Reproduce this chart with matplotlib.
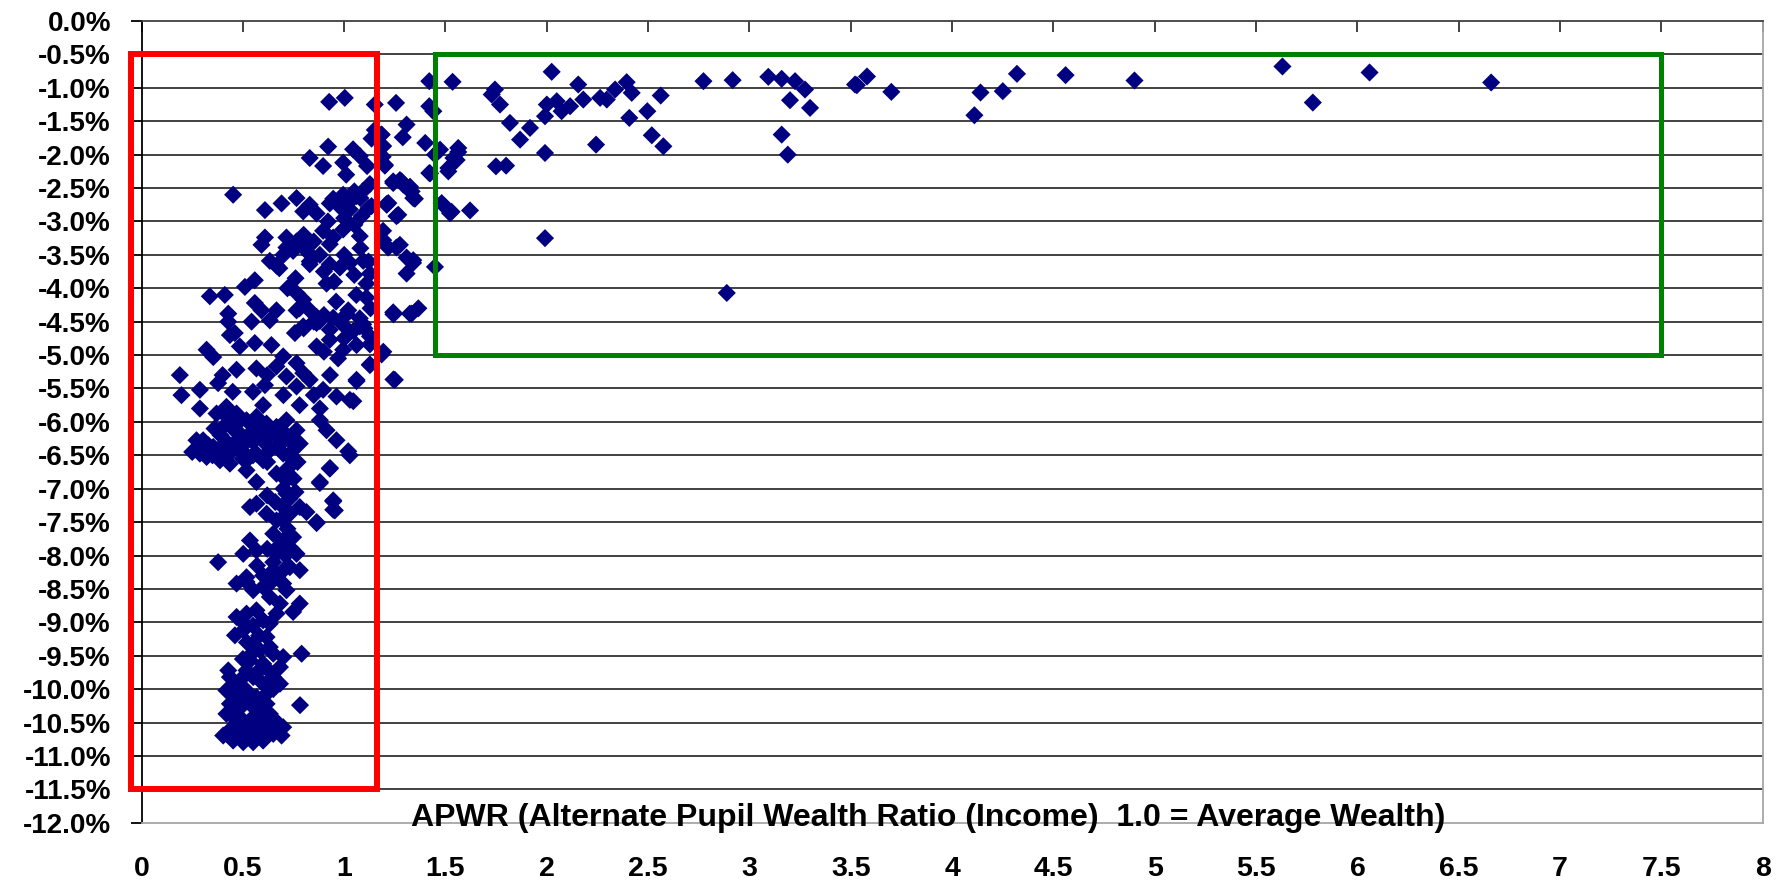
import matplotlib
matplotlib.use('Agg')
import matplotlib.pyplot as plt
from matplotlib.patches import Rectangle

# ---------------- data (APWR, % change) ----------------
# sparse districts, APWR > ~1.16
high_pts = [
    (3.53, -0.96), (3.58, -0.83), (3.70, -1.06), (4.11, -1.41), (4.14, -1.07), (4.25, -1.05),
    (4.32, -0.79), (4.56, -0.81), (4.90, -0.89), (5.63, -0.68), (5.78, -1.22), (6.06, -0.77),
    (6.66, -0.92),
    (1.256, -1.225), (1.308, -1.55), (1.289, -1.74), (1.185, -1.70), (1.40, -1.825), (1.19, -1.875),
    (1.201, -2.165), (1.242, -2.425), (1.292, -2.45), (1.333, -2.55), (1.341, -2.65), (1.218, -2.725),
    (1.267, -2.9), (1.42, -0.9), (1.42, -1.275), (1.44, -1.35), (1.42, -2.275),
    (1.535, -0.91), (1.473, -1.925), (1.563, -1.9), (1.539, -2.05), (1.514, -2.25), (1.481, -2.725),
    (1.522, -2.875), (1.621, -2.835), (1.744, -1.025), (1.728, -1.1), (1.769, -1.25), (1.818, -1.525),
    (1.868, -1.775), (1.917, -1.6), (1.749, -2.175), (1.799, -2.165), (2.024, -0.76), (1.991, -1.975),
    (2.0, -1.25), (1.991, -1.425), (2.049, -1.2), (2.073, -1.35), (2.115, -1.275), (2.155, -0.95),
    (2.18, -1.175), (2.263, -1.15), (2.296, -1.175), (2.337, -1.025), (2.394, -0.915), (2.419, -1.075),
    (2.407, -1.45), (2.496, -1.35), (2.562, -1.115), (2.243, -1.85), (2.518, -1.71), (2.575, -1.875),
    (2.773, -0.9), (2.917, -0.885), (3.093, -0.835), (3.159, -0.865), (3.225, -0.9), (3.274, -1.025),
    (3.299, -1.3), (3.200, -1.185), (3.159, -1.7), (3.189, -2.0), (3.521, -0.95), (1.991, -3.25),
    (2.888, -4.07), (1.448, -3.68), (1.498, -2.78), (1.53, -2.855),
    (1.242, -2.40), (1.275, -2.38), (1.325, -2.48), (1.21, -2.75), (1.193, -3.28), (1.275, -3.35),
    (1.341, -3.58), (1.308, -3.78), (1.242, -4.36), (1.333, -4.38), (1.366, -4.30), (1.193, -4.95),
    (1.424, -2.28), (1.448, -2.0), (1.514, -2.2), (1.555, -2.08), (1.563, -1.96), (1.243, -4.39),
    (1.243, -5.365), (1.185, -4.99), (1.25, -5.37),
    (1.184, -1.70), (1.192, -1.87), (1.20, -2.15), (1.283, -2.40), (1.324, -2.54), (1.349, -2.66),
    (1.209, -2.74), (1.258, -2.92), (1.192, -3.14), (1.217, -3.39), (1.258, -3.39), (1.308, -3.54),
    (1.34, -3.62), (1.324, -4.38), (1.19, -2.03),
]

# dense districts, APWR < ~1.16 (upper part of the cloud)
low_upper_pts = [
    (0.926, -1.21), (1.003, -1.15), (1.151, -1.25), (1.151, -1.63), (1.135, -1.76), (0.921, -1.88),
    (0.83, -2.05), (0.896, -2.17), (1.044, -1.92), (1.077, -2.02), (0.995, -2.12), (1.01, -2.3),
    (1.113, -2.17), (0.452, -2.6), (0.609, -2.83), (0.691, -2.73), (0.765, -2.65), (0.83, -2.75),
    (0.798, -2.85), (0.864, -2.88), (0.946, -2.66), (0.995, -2.60), (1.028, -2.70), (1.061, -2.62),
    (1.094, -2.54), (0.979, -2.78), (1.028, -2.82), (0.929, -2.73), (1.086, -2.92), (1.135, -2.77),
    (1.127, -2.44), (0.609, -3.24), (0.592, -3.35), (0.715, -3.24), (0.765, -3.30), (0.798, -3.39),
    (0.83, -3.49), (0.715, -3.39), (0.748, -3.44), (0.83, -3.64), (0.896, -3.14), (0.946, -3.24),
    (0.995, -3.12), (0.929, -3.34), (1.077, -3.22), (0.633, -3.59), (0.666, -3.66), (0.929, -3.64),
    (0.979, -3.69), (1.028, -3.62), (1.094, -3.59), (0.913, -3.93), (1.127, -3.78), (1.11, -3.93),
    (0.337, -4.12), (0.411, -4.10), (0.428, -4.38), (0.51, -3.98), (0.559, -3.88), (0.559, -4.22),
    (0.592, -4.33), (0.666, -4.33), (0.633, -4.48), (0.732, -3.98), (0.765, -4.07), (0.798, -4.17),
    (0.83, -4.33), (0.864, -4.43), (0.765, -4.33), (1.02, -4.33), (1.077, -4.45), (1.11, -4.14),
    (0.8, -3.2), (0.85, -3.3), (0.88, -3.5), (0.83, -3.6), (0.9, -3.75), (0.95, -3.9), (1.0, -3.5),
    (1.05, -3.8), (1.06, -4.1), (0.96, -4.2), (0.9, -4.4), (0.85, -4.5), (0.8, -4.6), (0.78, -4.3),
    (0.72, -4.0), (0.76, -3.85), (0.68, -3.7), (0.7, -3.5), (1.0, -2.95), (1.05, -3.05), (0.92, -3.0),
    (1.0, -2.7), (1.05, -2.55), (1.08, -2.65), (1.12, -2.8), (1.08, -3.4), (1.12, -3.6), (1.13, -4.3),
    (1.1, -4.6), (1.0, -4.75), (0.9, -4.95), (0.97, -5.05), (0.93, -5.3), (0.85, -5.6), (0.88, -5.8),
    (0.78, -5.75), (0.7, -5.6), (0.62, -5.3), (0.55, -5.55), (0.6, -5.75), (0.45, -5.55), (0.40, -5.3),
    (1.094, -4.54), (1.127, -4.84), (1.045, -4.64), (1.012, -4.39), (0.946, -4.44), (0.88, -4.49),
    (1.061, -5.39), (1.045, -5.69), (1.127, -5.14),
]

# dense districts, middle of the cloud
low_mid_pts = [
    (0.436, -4.70), (0.46, -4.67), (0.543, -4.5), (0.428, -4.5), (0.321, -4.92), (0.354, -5.03),
    (0.485, -4.87), (0.559, -4.82), (0.641, -4.85), (0.757, -4.67), (0.798, -4.57), (0.864, -4.52),
    (0.929, -4.62), (0.995, -4.55), (1.077, -4.57), (1.127, -4.72), (1.127, -5.15), (0.864, -4.87),
    (0.929, -4.77), (0.995, -4.92), (1.061, -4.85), (0.699, -5.02), (0.765, -5.12), (0.798, -5.27),
    (0.189, -5.30), (0.197, -5.60), (0.288, -5.80), (0.288, -5.52), (0.378, -5.42), (0.469, -5.22),
    (0.567, -5.20), (0.609, -5.45), (0.666, -5.17), (0.715, -5.32), (0.765, -5.47), (0.83, -5.37),
    (0.896, -5.52), (0.962, -5.62), (1.028, -5.67), (1.061, -5.37),
    (0.370, -5.875), (0.419, -5.775), (0.469, -5.875), (0.518, -5.975), (0.567, -5.925), (0.617, -6.025),
    (0.666, -6.075), (0.715, -5.975), (0.765, -6.125), (0.403, -6.075), (0.469, -6.125), (0.535, -6.175),
    (0.600, -6.20), (0.666, -6.225), (0.732, -6.275), (0.781, -6.325), (0.304, -6.275), (0.354, -6.375),
    (0.403, -6.475), (0.452, -6.425), (0.502, -6.45), (0.567, -6.475), (0.633, -6.425), (0.699, -6.475),
    (0.748, -6.575), (0.321, -6.525), (0.387, -6.575), (0.436, -6.625), (0.518, -6.575), (0.600, -6.575),
    (0.271, -6.275), (0.288, -6.475),
    (0.36, -6.1), (0.39, -6.2), (0.42, -6.3), (0.45, -6.1), (0.48, -6.25), (0.50, -6.35), (0.55, -6.3),
    (0.58, -6.1), (0.62, -6.35), (0.64, -6.15), (0.68, -6.35), (0.7, -6.15), (0.55, -6.05), (0.43, -5.95),
    (0.48, -6.0), (0.5, -6.55), (0.55, -6.5), (0.62, -6.6), (0.35, -6.5), (0.4, -6.35), (0.33, -6.35),
    (0.28, -6.4), (0.30, -6.45), (0.25, -6.45), (0.74, -6.45), (0.77, -6.6), (0.72, -6.7), (0.75, -6.85),
    (0.88, -5.975), (0.913, -6.125), (0.962, -6.275), (1.028, -6.5), (0.929, -6.7), (0.88, -6.9),
    (0.946, -7.175), (0.954, -7.325), (0.518, -6.725), (0.567, -6.9), (0.666, -6.775), (0.715, -6.875),
    (0.715, -7.075), (0.699, -7.275), (0.535, -7.275), (0.567, -7.225), (0.617, -7.375), (0.666, -7.475),
    (0.732, -7.375), (0.781, -7.275), (0.814, -7.35), (0.864, -7.5), (0.65, -7.675), (0.699, -7.775),
    (0.748, -7.725), (0.765, -7.975), (0.666, -7.975), (0.732, -8.175), (0.535, -7.775), (0.502, -7.975),
    (0.567, -7.925), (0.378, -8.1), (0.633, -8.275), (0.699, -8.225), (0.518, -8.325),
    (1.02, -6.44), (0.93, -6.69), (0.88, -6.915), (0.946, -7.19), (0.946, -7.315), (0.864, -7.515),
    (0.62, -7.1), (0.66, -7.2), (0.70, -7.0), (0.73, -7.15), (0.76, -7.05), (0.69, -7.45), (0.72, -7.6),
    (0.68, -7.85), (0.71, -8.0), (0.62, -7.9), (0.65, -8.1), (0.6, -8.3), (0.64, -8.4), (0.57, -8.15),
    (0.74, -7.9),
]

# dense districts, bottom of the cloud
low_bottom_pts = [
    (0.469, -8.42), (0.518, -8.395), (0.551, -8.52), (0.600, -8.47), (0.633, -8.32), (0.666, -8.27),
    (0.699, -8.42), (0.781, -8.22), (0.633, -8.62), (0.683, -8.72), (0.666, -8.87), (0.715, -8.52),
    (0.781, -8.72), (0.748, -8.845), (0.469, -8.92), (0.518, -8.87), (0.567, -8.82), (0.60, -8.97),
    (0.633, -9.02), (0.461, -9.195), (0.502, -9.12), (0.551, -9.32), (0.617, -9.22), (0.633, -9.37),
    (0.584, -9.42), (0.65, -9.47), (0.699, -9.52), (0.683, -9.67), (0.60, -9.62), (0.535, -9.57),
    (0.518, -9.72), (0.436, -9.82), (0.485, -9.87), (0.551, -9.82), (0.60, -9.92), (0.65, -9.82),
    (0.683, -9.92), (0.419, -10.02), (0.469, -10.07), (0.518, -10.02), (0.567, -10.12), (0.617, -10.07),
    (0.436, -10.22), (0.485, -10.27), (0.535, -10.22), (0.584, -10.32), (0.617, -10.22), (0.452, -10.42),
    (0.502, -10.47), (0.551, -10.42), (0.600, -10.47), (0.633, -10.37), (0.403, -10.695), (0.452, -10.77),
    (0.502, -10.795), (0.551, -10.795), (0.60, -10.77), (0.65, -10.67), (0.699, -10.57), (0.691, -10.695),
    (0.485, -10.62), (0.535, -10.57), (0.584, -10.57), (0.428, -9.72), (0.419, -10.37),
    (0.79, -9.47), (0.782, -10.24),
    (0.5, -9.0), (0.55, -9.05), (0.58, -9.2), (0.52, -9.3), (0.55, -9.45), (0.62, -9.7), (0.57, -9.75),
    (0.5, -9.55), (0.45, -9.95), (0.52, -10.15), (0.57, -10.3), (0.6, -10.55), (0.52, -10.6),
    (0.47, -10.55), (0.44, -10.6), (0.55, -10.68), (0.58, -10.7), (0.48, -10.3), (0.65, -10.0),
    (0.67, -10.5), (0.62, -10.6),
]

x_tick_vals = [0, 0.5, 1, 1.5, 2, 2.5, 3, 3.5, 4, 4.5, 5, 5.5, 6, 6.5, 7, 7.5, 8]
x_tick_labels = ['0', '0.5', '1', '1.5', '2', '2.5', '3', '3.5', '4', '4.5', '5', '5.5',
                 '6', '6.5', '7', '7.5', '8']
y_tick_vals = [-12.0, -11.5, -11.0, -10.5, -10.0, -9.5, -9.0, -8.5, -8.0, -7.5, -7.0, -6.5,
               -6.0, -5.5, -5.0, -4.5, -4.0, -3.5, -3.0, -2.5, -2.0, -1.5, -1.0, -0.5, 0.0]
y_tick_labels = ['-12.0%', '-11.5%', '-11.0%', '-10.5%', '-10.0%', '-9.5%', '-9.0%', '-8.5%',
                 '-8.0%', '-7.5%', '-7.0%', '-6.5%', '-6.0%', '-5.5%', '-5.0%', '-4.5%', '-4.0%',
                 '-3.5%', '-3.0%', '-2.5%', '-2.0%', '-1.5%', '-1.0%', '-0.5%', '0.0%']
x_title = 'APWR (Alternate Pupil Wealth Ratio (Income)  1.0 = Average Wealth)'

# highlight boxes (x0, x1, y0, y1)
red_box = (-0.05, 1.16, -11.5, -0.5)
green_box = (1.45, 7.5, -5.0, -0.5)

# ---------------- plot ----------------
plt.rcParams['font.family'] = ['Liberation Sans', 'DejaVu Sans']

fig = plt.figure(figsize=(17.87, 8.84), dpi=100)
ax = fig.add_axes([0.0792, 0.0693, 0.9072, 0.9069])
ax.set_xlim(0, 8)
ax.set_ylim(-12, 0)

all_pts = low_bottom_pts + low_mid_pts + low_upper_pts + high_pts
xs = [p[0] for p in all_pts]
ys = [p[1] for p in all_pts]
ax.scatter(xs, ys, marker='D', s=85, color='#000080', edgecolors='none', zorder=3)

# axes styling
ax.set_yticks(y_tick_vals)
ax.set_yticklabels(y_tick_labels, fontsize=20, fontweight='bold')
ax.set_xticks(x_tick_vals)
ax.set_xticklabels(x_tick_labels, fontsize=20.5, fontweight='bold')

ax.tick_params(axis='y', direction='out', length=8, width=1.3, color='black', pad=14)
ax.tick_params(axis='x', direction='in', length=8, width=1.3, color='#333333',
               bottom=False, top=True, labelbottom=True, labeltop=False, pad=24)

ax.yaxis.grid(True, color='#333333', lw=1.3)
ax.set_axisbelow(True)
glines = ax.get_ygridlines()
glines[0].set_visible(False)
glines[-1].set_visible(False)

ax.spines['left'].set_color('black')
ax.spines['left'].set_linewidth(1.3)
ax.spines['top'].set_color('#404040')
ax.spines['top'].set_linewidth(1.3)
for s in ('right', 'bottom'):
    ax.spines[s].set_color('#a6a6a6')
    ax.spines[s].set_linewidth(1.3)

# axis title inside plot area
ax.text(3.88, -12.05, x_title, ha='center', va='baseline', fontsize=23,
        fontweight='bold', color='black', zorder=6, clip_on=False)

# highlight rectangles
rx0, rx1, ry0, ry1 = red_box
ax.add_patch(Rectangle((rx0, ry0), rx1 - rx0, ry1 - ry0, fill=False, ec='#ff0000',
                       lw=4.3, joinstyle='miter', clip_on=False, zorder=5))
gx0, gx1, gy0, gy1 = green_box
ax.add_patch(Rectangle((gx0, gy0), gx1 - gx0, gy1 - gy0, fill=False, ec='#008000',
                       lw=3.6, joinstyle='miter', clip_on=False, zorder=5))

fig.savefig('out.png', dpi=100, facecolor='white')
